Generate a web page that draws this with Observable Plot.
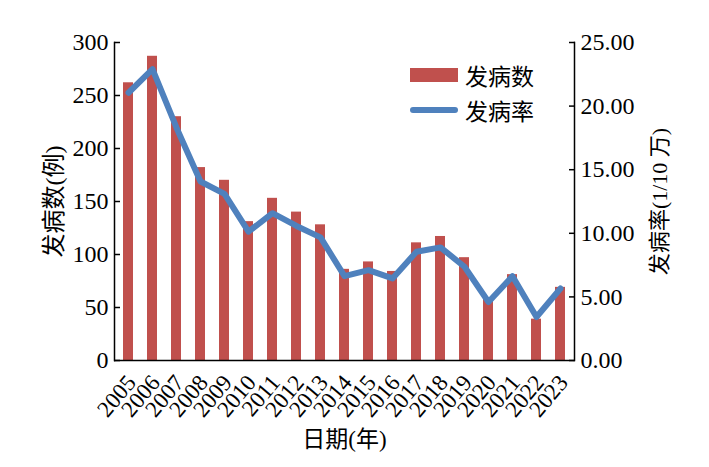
<!DOCTYPE html>
<html>
<head>
<meta charset="utf-8">
<script src="https://cdn.jsdelivr.net/npm/d3@7"></script>
<script src="https://cdn.jsdelivr.net/npm/@observablehq/plot@0.6"></script>
<style>
  html, body { margin: 0; padding: 0; background: #fff; }
  #wrap { position: relative; width: 709px; height: 467px; font-family: "Liberation Serif", "Noto Sans CJK SC", serif; }
  #legend { position: absolute; left: 410px; top: 57px; font-size: 23px; color: #000; }
  .row { display: flex; align-items: center; height: 35px; }
  .sw { width: 48px; margin-right: 7px; }
</style>
</head>
<body>
<div id="wrap">
  <div id="legend">
    <div class="row"><div class="sw" style="height:14px;background:#c0504d"></div><span>发病数</span></div>
    <div class="row"><div class="sw" style="height:6px;border-radius:3px;background:#4f81bd"></div><span>发病率</span></div>
  </div>
</div>
<script>
const years = ["2005","2006","2007","2008","2009","2010","2011","2012","2013","2014","2015","2016","2017","2018","2019","2020","2021","2022","2023"];
const cases = [262,287,230,182,170,131,153,140,128,86,93,84,111,117,97,58,81,39,69];
const rates = [21.05,22.9,18.3,14.07,13.1,10.13,11.58,10.58,9.68,6.63,7.1,6.45,8.55,8.89,7.37,4.6,6.63,3.42,5.66];
const leftTicks = [0,50,100,150,200,250,300];
const rightTicks = [0,5,10,15,20,25];
const ratio = 300 / 25;

const data = years.map((y, i) => ({year: y, cases: cases[i], rate: rates[i]}));

const chart = Plot.plot({
  width: 709,
  height: 467,
  marginLeft: 114,
  marginRight: 135,
  marginTop: 42,
  marginBottom: 107,
  style: {fontFamily: '"Liberation Serif", "Noto Sans CJK SC", serif', fontSize: "23px", color: "#000", background: "#fff"},
  x: {type: "band", domain: years, paddingInner: 0.59, paddingOuter: 0.295, align: 0.5},
  y: {domain: [0, 300]},
  marks: [
    Plot.barY(data, {x: "year", y: "cases", fill: "#c0504d"}),
    Plot.line(data, {x: "year", y: d => d.rate * ratio, stroke: "#4f81bd", strokeWidth: 6, strokeLinejoin: "round", strokeLinecap: "round"}),
    Plot.ruleY([0], {stroke: "#000", strokeWidth: 1.5}),
    Plot.frame({anchor: "left", stroke: "#000", strokeWidth: 1.5}),
    Plot.frame({anchor: "right", stroke: "#000", strokeWidth: 1.5}),
    Plot.axisY({anchor: "left", ticks: leftTicks, tickSize: -6, tickPadding: 12, strokeWidth: 1.5,
      label: "发病数(例)", labelArrow: "none", labelAnchor: "center", labelOffset: 70, fontSize: 24}),
    Plot.axisY({anchor: "right", ticks: rightTicks.map(d => d * ratio), tickFormat: d => (d / ratio).toFixed(2),
      tickSize: -6, tickPadding: 12, strokeWidth: 1.5, label: null, fontSize: 24}),
    Plot.axisY({anchor: "right", ticks: [], label: "发病率(1/10 万)", labelArrow: "none",
      labelAnchor: "center", labelOffset: 92, fontSize: 22, dy: -8}),
    Plot.axisX({tickRotate: -50, tickSize: 0, tickPadding: 18, dx: 3, fontSize: 23,
      label: "日期(年)", labelArrow: "none", labelAnchor: "center", labelOffset: 86})
  ]
});
document.getElementById("wrap").prepend(chart);
</script>
</body>
</html>
